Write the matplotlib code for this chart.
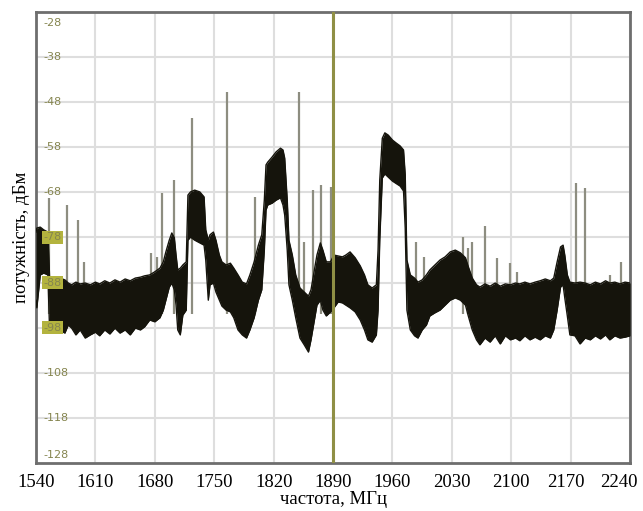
import numpy as np
import matplotlib
matplotlib.use("Agg")
import matplotlib.pyplot as plt
import matplotlib.transforms as mtransforms

# spectrum envelope (MHz, dBm)
freq = [1540, 1541, 1545, 1549, 1554, 1556, 1562, 1568, 1574, 1578, 1582, 1587, 1592, 1598,
        1604, 1610, 1615, 1621, 1627, 1633, 1639, 1645, 1651, 1657, 1663, 1668, 1674, 1680,
        1686, 1690, 1693, 1697, 1700, 1703, 1705, 1707, 1710, 1713, 1717, 1719, 1722, 1727,
        1733, 1738, 1740, 1743, 1745, 1749, 1752, 1756, 1759, 1764, 1769, 1773, 1778, 1783,
        1788, 1792, 1797, 1802, 1806, 1809, 1811, 1813, 1818, 1823, 1828, 1831, 1833, 1836,
        1838, 1842, 1846, 1851, 1856, 1861, 1864, 1868, 1871, 1875, 1878, 1882, 1887, 1891,
        1896, 1901, 1905, 1910, 1916, 1922, 1927, 1931, 1936, 1941, 1943, 1945, 1948, 1951,
        1955, 1960, 1964, 1969, 1973, 1975, 1977, 1981, 1986, 1990, 1995, 2000, 2004, 2010,
        2016, 2022, 2028, 2034, 2040, 2046, 2049, 2054, 2059, 2063, 2069, 2075, 2081, 2087,
        2093, 2099, 2105, 2110, 2116, 2122, 2128, 2134, 2140, 2146, 2150, 2154, 2158, 2161,
        2163, 2166, 2169, 2175, 2181, 2187, 2193, 2199, 2205, 2211, 2216, 2222, 2228, 2234, 2240]
upper = [-76.8, -75.9, -75.7, -76.3, -76.8, -86.8, -87.0, -87.0, -87.4, -88.1, -88.5, -87.9, -88.3, -88.1,
         -88.5, -87.9, -88.3, -87.6, -88.1, -87.4, -87.9, -87.2, -87.6, -87.0, -86.8, -86.5, -86.3, -85.6,
         -84.8, -83.4, -81.2, -78.6, -77.0, -78.1, -81.9, -85.2, -84.8, -84.1, -83.4, -68.6, -67.9, -67.5,
         -67.9, -69.0, -76.3, -78.6, -77.4, -76.8, -78.6, -81.9, -83.4, -84.1, -83.7, -84.8, -86.3, -87.9,
         -88.3, -86.3, -83.4, -79.7, -77.4, -69.7, -61.9, -61.3, -60.2, -59.0, -58.2, -58.6, -60.4, -69.7,
         -78.6, -81.9, -86.3, -89.2, -90.1, -91.0, -89.6, -85.2, -81.9, -79.2, -80.8, -83.4, -83.4, -81.9,
         -82.1, -82.3, -81.9, -81.2, -82.5, -84.3, -86.3, -88.5, -89.2, -88.5, -80.8, -65.3, -56.0, -54.8,
         -55.3, -56.4, -57.0, -57.7, -58.6, -64.1, -83.0, -86.3, -87.0, -87.9, -87.4, -86.3, -85.2, -84.1,
         -83.0, -82.3, -81.2, -80.8, -81.4, -82.5, -84.3, -87.0, -88.5, -89.0, -88.3, -88.8, -88.1, -88.8,
         -88.3, -88.5, -88.1, -88.3, -87.9, -88.3, -87.9, -87.6, -87.2, -87.6, -87.0, -83.4, -80.1, -79.7,
         -81.9, -86.3, -87.9, -88.1, -87.9, -88.1, -88.5, -87.9, -88.3, -87.6, -88.1, -87.9, -88.3, -87.9, -88.1]
lower = [-91.9, -93.6, -86.3, -85.9, -86.3, -98.5, -99.0, -98.5, -99.2, -97.4, -98.1, -99.6, -98.5, -100.3,
         -99.6, -99.0, -99.8, -98.5, -99.4, -98.1, -99.2, -98.5, -99.6, -98.1, -98.5, -97.8, -96.3, -96.7,
         -95.8, -94.1, -91.9, -89.0, -88.1, -89.6, -93.0, -98.5, -99.6, -95.2, -94.1, -78.6, -77.9, -78.6,
         -79.2, -79.7, -83.0, -91.9, -88.5, -88.1, -90.1, -91.9, -93.2, -94.1, -94.5, -95.8, -98.5, -99.6,
         -100.3, -98.5, -95.8, -91.9, -89.6, -80.8, -71.9, -70.8, -70.4, -69.7, -69.2, -70.8, -73.0, -80.8,
         -88.5, -91.9, -95.8, -100.3, -101.8, -103.4, -100.7, -96.3, -93.0, -91.9, -94.1, -95.4, -94.5, -93.6,
         -92.3, -92.5, -93.0, -93.6, -94.5, -96.3, -98.5, -100.7, -101.2, -99.6, -94.1, -78.6, -64.8, -63.9,
         -64.6, -65.5, -66.0, -66.6, -67.7, -75.9, -94.1, -98.5, -99.8, -100.3, -98.5, -97.4, -95.4, -94.7,
         -94.1, -93.0, -91.9, -91.4, -91.9, -93.0, -95.2, -98.5, -100.7, -101.8, -100.3, -101.2, -99.8, -101.6,
         -99.8, -100.7, -100.3, -100.9, -99.8, -100.7, -100.1, -100.7, -99.8, -100.3, -98.5, -94.1, -89.0, -88.5,
         -91.4, -95.4, -99.6, -99.8, -101.6, -100.3, -100.7, -99.8, -100.5, -99.6, -100.7, -99.8, -100.3, -100.1, -99.8]

# narrow spurs sticking out of the noise band
spur_f = [1555, 1576, 1589, 1597, 1676, 1683, 1689, 1703, 1724, 1765, 1798, 1850, 1856, 1866,
          1876, 1888, 1988, 1997, 2043, 2049, 2054, 2069, 2083, 2099, 2107, 2176, 2187, 2216, 2229]
spur_top = [-69.2, -70.8, -74.1, -83.4, -81.4, -82.3, -68.2, -65.3, -51.5, -45.7, -69.0, -45.7, -79.0, -67.5,
            -66.4, -66.8, -79.0, -82.3, -77.9, -80.4, -79.0, -75.5, -82.6, -83.7, -85.6, -65.9, -67.0, -86.3, -83.4]

marker_f = 1890
xticks = [1540, 1610, 1680, 1750, 1820, 1890, 1960, 2030, 2100, 2170, 2240]
ylevels = [-28, -38, -48, -58, -68, -78, -88, -98, -108, -118, -128]

fig = plt.figure(figsize=(6.43, 5.11), dpi=100)
ax = fig.add_axes([0.056, 0.094, 0.924, 0.8825])
ax.set_xlim(1540, 2240)
ax.set_ylim(-128, -28)

# grid
ax.set_xticks(xticks)
ax.set_yticks(ylevels[1:-1])
ax.grid(True, color='#dedede', lw=1.5)
ax.set_axisbelow(True)
ax.tick_params(axis='both', length=0)
ax.tick_params(axis='y', labelleft=False)
ax.tick_params(axis='x', pad=8)
labs = ax.get_xticklabels()
for lab in labs:
    lab.set_fontfamily('Liberation Serif')
    lab.set_fontsize(13.5)
# the last two labels sit a little to the left of their grid lines
for lab, dx in ((labs[-2], -5), (labs[-1], -11)):
    lab.set_transform(lab.get_transform() + mtransforms.ScaledTranslation(dx / 100, 0, fig.dpi_scale_trans))
for s in ax.spines.values():
    s.set_color('#6e6e6e')
    s.set_linewidth(2)

# spurs behind the band
ax.vlines(spur_f, -95, spur_top, color='#8d8d80', lw=1.6, zorder=2)

band = '#15140c'
ax.fill_between(freq, lower, upper, color=band, lw=0, zorder=3)
ax.plot(freq, upper, color=band, lw=1.0, zorder=3)
ax.plot(freq, lower, color=band, lw=1.0, zorder=3)

ax.axvline(marker_f, color='#8f8f45', lw=2.2, zorder=4)

# level labels drawn inside the plot, like the analyzer screen
ytr = ax.get_yaxis_transform()
for lv in ylevels:
    ypos = lv
    if lv == -28:
        ypos = -30.4
    elif lv == -128:
        ypos = -126.2
    kw = {}
    if lv in (-78, -88, -98):
        kw['bbox'] = dict(facecolor='#b3b33e', edgecolor='none', pad=1.0)
    ax.text(0.012, ypos, str(lv), transform=ytr, ha='left', va='center',
            fontsize=8, color='#85854f', zorder=5, **kw)

ax.set_xlabel('частота, МГц', fontfamily='Liberation Serif', fontsize=13.5, labelpad=0)
ax.set_ylabel('потужність, дБм', fontfamily='Liberation Serif', fontsize=13.5, labelpad=4)

fig.savefig('out.png', dpi=100)
